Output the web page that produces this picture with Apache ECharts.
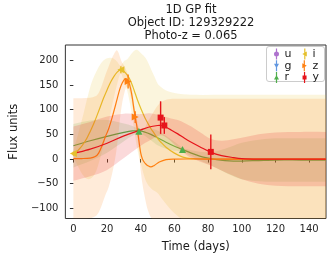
<!DOCTYPE html>
<html><head><meta charset="utf-8">
<script src="https://cdn.jsdelivr.net/npm/echarts@6/dist/echarts.min.js"></script>
<style>html,body{margin:0;padding:0;background:#fff}#c{width:332px;height:258px}</style>
</head><body><div id="c"></div>
<script>
// ---- tick labels ----
const xTicks = [0, 20, 40, 60, 80, 100, 120, 140];
const yTicks = [-100, -50, 0, 50, 100, 150, 200];
const titleLines = ['1D GP fit', 'Object ID: 129329222', 'Photo-z = 0.065'];
const bandNames = ['u', 'g', 'r', 'i', 'z', 'y'];

// ---- r band GP ----
const rT    = [0, 10, 20, 30, 35, 39, 42, 46, 50, 55, 60, 65, 70, 75, 80, 85, 90, 95, 100, 110, 120, 135, 150];
const rMean = [27, 37, 46, 54, 57, 57, 55, 50, 43, 34, 26, 19, 12, 6, 2, -1, -3, -4, -4, -3, -2, -2, -2];
const rLo   = [-17, -4, 13, 36, 47, 53, 48, 38, 28, 21, 17, 15, 6, -3, -10, -18, -27, -35, -41, -45, -46, -46, -46];
const rHi   = [71, 78, 79, 72, 67, 61, 62, 62, 58, 47, 35, 23, 18, 15, 14, 16, 21, 27, 33, 39, 42, 42, 42];
const rObsT = [38.9, 64.8];
const rObsF = [56.5, 19.5];
const rObsE = [4, 4];

// ---- i band GP ----
const iT    = [0, 2, 4, 6, 8, 10, 12, 14, 16, 18, 20, 22, 24, 26, 28, 30, 32, 34, 36, 38, 40, 43, 46, 48, 50, 52, 55, 60, 65, 70, 90, 110, 130, 150];
const iMean = [11, 15, 22, 31, 42, 56, 71, 88, 106, 124, 140, 155, 167, 176, 181, 178, 170, 158, 140, 120, 103, 80, 62, 52, 42, 34, 24, 12, 4, 1, 0, 0, 0, 0];
const iLo   = [5, -10, -23, -34, -40, -40, -34, -20, 3, 30, 60, 92, 124, 152, 173, 158, 138, 105, 61, 19, -9, -44, -59, -64, -69, -78, -91, -110, -123, -129, -130, -130, -130, -130];
const iHi   = [17, 40, 66, 92, 120, 146, 165, 180, 192, 200, 204, 205, 203, 197, 189, 198, 202, 211, 219, 221, 215, 204, 183, 168, 153, 146, 139, 134, 131, 130, 130, 130, 130, 130];
const iObsT = [0, 28.2];
const iObsF = [11, 181];
const iObsE = [4, 7];

// ---- z band GP ----
const zT    = [0, 5, 10, 13, 15, 17, 19, 21, 23, 25, 26, 27, 28, 29, 30, 31, 32, 33, 34, 35, 36, 37, 38, 39, 40, 41, 42, 43, 44, 46, 48, 51, 55, 60, 80, 100, 120, 150];
const zMean = [1, 1, 2, 5, 12, 27, 45, 62, 84, 109, 122, 135, 146, 154, 160, 163, 161, 155, 142, 124, 100, 80, 60, 35, 12, 0, -6, -10, -13, -16, -13, -6, -1, 0, 0, 0, 0, 0];
const zLo   = [-121, -121, -120, -116, -108, -92, -73, -56, -30, 5, 30, 60, 91, 114, 130, 143, 147, 142, 127, 109, 87, 68, 44, 11, -24, -50, -70, -87, -101, -118, -124, -124, -122, -122, -122, -122, -122, -122];
const zHi   = [123, 123, 124, 127, 134, 150, 170, 188, 205, 218, 220, 214, 203, 195, 190, 183, 175, 168, 157, 139, 113, 92, 76, 59, 48, 50, 58, 67, 75, 86, 98, 112, 120, 122, 122, 122, 122, 122];
const zObsT = [32.5, 36.7];
const zObsF = [157, 85];
const zObsE = [14, 12];

// ---- y band GP ----
const yT    = [0, 10, 20, 30, 40, 45, 50, 52, 54, 58, 62, 66, 70, 75, 81.5, 88, 95, 100, 110, 120, 135, 150];
const yMean = [11, 20, 32, 47, 59, 65, 68, 68, 66, 59, 51, 42, 34, 25, 14, 7, 3, 1, 0, 0, 0, 0];
const yLo   = [-44, -35, -22, 2, 27, 37, 46, 48, 46, 36, 23, 11, 2, -5, -13, -23, -34, -41, -50, -54, -55, -55];
const yHi   = [66, 75, 86, 92, 91, 93, 90, 88, 86, 82, 79, 73, 66, 55, 41, 37, 40, 43, 50, 54, 55, 55];
const yObsT = [51.8, 54.0, 81.6];
const yObsF = [84, 68, 14.5];
const yObsE = [33, 17, 35];

const FONT = 'DejaVu Sans';
const colors = { u: '#9a4fc2', g: '#3b7dd8', r: '#4fae4c', i: '#e5c02c', z: '#ff8011', y: '#e6141b' };
const BAND_OPACITY = 0.16;
const BAR = 'M4.8,0H7.2V22H4.8Z ';
const icons = {
  u: 'path://' + BAR + 'M1,11A5,5 0 1,1 11,11A5,5 0 1,1 1,11Z',
  g: 'path://' + BAR + 'M1,7H11L6,16Z',
  r: 'path://' + BAR + 'M6,6L11,15H1Z',
  i: 'path://' + BAR + 'M1,11L10,6V16Z',
  z: 'path://' + BAR + 'M11,11L2,16V6Z',
  y: 'path://' + BAR + 'M2,7H10V15H2Z'
};
const marker = { r: ['triangle', 0, 7], i: ['triangle', 90, 7], z: ['triangle', -90, 7], y: ['rect', 0, 6] };

const fmt = v => String(v).replace('-', '\u2212');

// smooth x-monotone cubic path through pixel points
function curve(pts, start) {
  const n = pts.length;
  const slope = k => {
    const a = pts[Math.max(k - 1, 0)], b = pts[Math.min(k + 1, n - 1)];
    return (b[1] - a[1]) / ((b[0] - a[0]) || 1e-6);
  };
  let d = start + pts[0][0].toFixed(2) + ',' + pts[0][1].toFixed(2);
  for (let k = 0; k < n - 1; k++) {
    const p1 = pts[k], p2 = pts[k + 1];
    const dx = p2[0] - p1[0];
    const m1 = slope(k), m2 = slope(k + 1);
    d += 'C' + (p1[0] + dx / 3).toFixed(2) + ',' + (p1[1] + m1 * dx / 3).toFixed(2) + ' ' +
         (p2[0] - dx / 3).toFixed(2) + ',' + (p2[1] - m2 * dx / 3).toFixed(2) + ' ' +
         p2[0].toFixed(2) + ',' + p2[1].toFixed(2);
  }
  return d;
}

const series = [];
series.push({ type: 'scatter', name: 'u', data: [], itemStyle: { color: colors.u } });
series.push({ type: 'scatter', name: 'g', data: [], itemStyle: { color: colors.g } });

function addBand(key, t, mean, lo, hi, oT, oF, oE) {
  const c = colors[key];
  series.push({ type: 'custom', name: key + '-band', data: [[t[0], mean[0]]], silent: true,
    renderItem: (p, api) => {
      const up = t.map((x, k) => api.coord([x, hi[k]]));
      const dn = t.map((x, k) => api.coord([x, lo[k]])).reverse();
      const d = curve(up, 'M') + curve(dn, 'L') + 'Z';
      const cs = p.coordSys;
      return { type: 'path', shape: { pathData: d }, style: { fill: c, opacity: BAND_OPACITY, stroke: null },
        clipPath: { type: 'rect', shape: { x: cs.x, y: cs.y, width: cs.width, height: cs.height } } };
    } });
  series.push({ type: 'custom', name: key + '-mean', data: [[t[0], mean[0]]], silent: true,
    renderItem: (p, api) => {
      const pts = t.map((x, k) => api.coord([x, mean[k]]));
      const cs = p.coordSys;
      return { type: 'path', shape: { pathData: curve(pts, 'M') }, style: { fill: null, stroke: c, lineWidth: 1.2 },
        clipPath: { type: 'rect', shape: { x: cs.x, y: cs.y, width: cs.width, height: cs.height } } };
    } });
  series.push({ type: 'custom', name: key + '-err', data: oT.map((x, k) => [x, oF[k] - oE[k], oF[k] + oE[k]]),
    encode: { x: 0, y: [1, 2] }, silent: true,
    renderItem: (p, api) => {
      const a = api.coord([api.value(0), api.value(1)]);
      const b = api.coord([api.value(0), api.value(2)]);
      return { type: 'line', shape: { x1: a[0], y1: a[1], x2: b[0], y2: b[1] }, style: { stroke: c, lineWidth: 1.4 } };
    } });
  series.push({ type: 'scatter', name: key, data: oT.map((x, k) => [x, oF[k]]), symbol: marker[key][0],
    symbolRotate: marker[key][1], symbolSize: marker[key][2], itemStyle: { color: c, opacity: 1 }, silent: true });
}
addBand('r', rT, rMean, rLo, rHi, rObsT, rObsF, rObsE);
addBand('i', iT, iMean, iLo, iHi, iObsT, iObsF, iObsE);
addBand('z', zT, zMean, zLo, zHi, zObsT, zObsF, zObsE);
addBand('y', yT, yMean, yLo, yHi, yObsT, yObsF, yObsE);

const legendCommon = { orient: 'vertical', itemWidth: 6, itemHeight: 11, itemGap: 0.7, padding: 0, selectedMode: false, z: 10,
  textStyle: { fontSize: 11, color: '#1a1a1a', fontFamily: FONT } };

const option = {
  animation: false,
  backgroundColor: '#ffffff',
  textStyle: { fontFamily: FONT },
  grid: { left: 56, top: 45, width: 270, height: 176, show: true, borderColor: '#333', borderWidth: 1, backgroundColor: 'transparent' },
  xAxis: {
    type: 'value', min: -4.76, max: 150, name: 'Time (days)', nameLocation: 'middle', nameGap: 22.5,
    nameTextStyle: { fontSize: 11.5, color: '#1a1a1a', fontFamily: FONT },
    axisLine: { show: false }, splitLine: { show: false },
    axisTick: { show: true, customValues: xTicks, length: 3.5, lineStyle: { color: '#333' } },
    axisLabel: { customValues: xTicks, fontSize: 10, color: '#262626', margin: 6, fontFamily: FONT, formatter: fmt }
  },
  yAxis: {
    type: 'value', min: -120.4, max: 231, name: 'Flux units', nameLocation: 'middle', nameGap: 43, nameRotate: 90,
    nameTextStyle: { fontSize: 11.5, color: '#1a1a1a', fontFamily: FONT },
    axisLine: { show: false }, splitLine: { show: false },
    axisTick: { show: true, customValues: yTicks, length: 3.5, lineStyle: { color: '#333' } },
    axisLabel: { customValues: yTicks, fontSize: 10, color: '#262626', margin: 7, fontFamily: FONT, formatter: fmt }
  },
  legend: [
    Object.assign({ left: 274, top: 48.5, data: bandNames.slice(0, 3).map(n => ({ name: n, icon: icons[n] })) }, legendCommon),
    Object.assign({ left: 302.3, top: 48.5, data: bandNames.slice(3).map(n => ({ name: n, icon: icons[n] })) }, legendCommon)
  ],
  graphic: [
    { type: 'rect', z: 5, shape: { x: 266.5, y: 46.5, width: 58, height: 35, r: 2.5 }, style: { fill: 'rgba(255,255,255,0.8)', stroke: '#cccccc', lineWidth: 1 } },
    { type: 'text', z: 5, x: 191, y: 3.5, style: { text: titleLines.join('\n'), fontSize: 11.5, lineHeight: 13, fontFamily: FONT, fill: '#1a1a1a', align: 'center', verticalAlign: 'top' } }
  ],
  series: series
};
const chart = echarts.init(document.getElementById('c'), null, { renderer: 'canvas', width: 332, height: 258 });
chart.setOption(option);
</script></body></html>
